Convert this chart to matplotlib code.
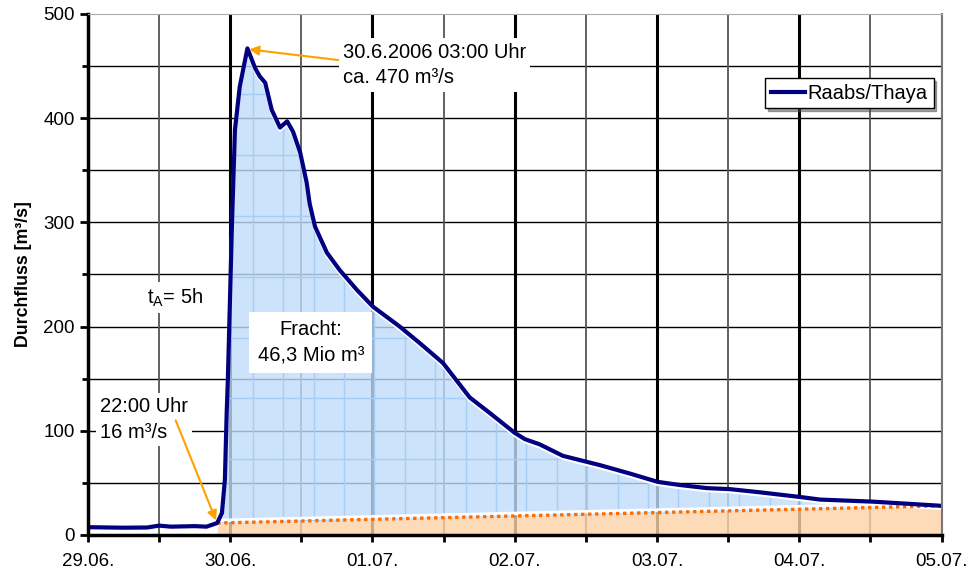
import numpy as np
import matplotlib
matplotlib.use("Agg")
import matplotlib.pyplot as plt
import matplotlib.transforms as mtransforms

plt.rcParams['font.family'] = ['Liberation Sans', 'DejaVu Sans']

# hydrograph Raabs/Thaya, hours since 29.06. 00:00
hours = [0, 6, 10, 12, 14, 18, 20, 21.8, 22.6, 23.1, 23.4, 23.6, 24.3, 24.8,
         25.6, 26.9, 28.2, 29.0, 29.9, 31.0, 32.4, 33.6, 34.6, 35.8, 36.9,
         37.4, 38.3, 40.3, 42.5, 45.4, 48.1, 52.6, 56.0, 59.9, 64.4, 67.8,
         72.0, 73.7, 76.2, 80.1, 86.4, 91.4, 96.1, 99.8, 104.4, 108.3, 113.3,
         120.1, 123.5, 132.4, 144]
flow = [7.5, 7.0, 7.2, 9.0, 8.0, 8.5, 8.0, 11.5, 21, 53, 117, 149, 300, 389,
        430, 467, 448, 440, 434, 408, 391, 397, 387, 367, 338,
        318, 296, 271, 254, 235, 219, 200, 184, 165, 132, 117,
        98, 92, 87, 76, 67, 59, 51, 48, 45, 44, 41,
        36.5, 34, 32, 28]

# base flow line (separation of the event load)
base_hours = [21.8, 144]
base_flow = [11.5, 28]

day_labels = ["29.06.", "30.06.", "01.07.", "02.07.", "03.07.", "04.07.", "05.07."]

hours = np.array(hours)
flow = np.array(flow)

fig = plt.figure(figsize=(9.73, 5.78), dpi=100)
ax = fig.add_axes([0.0904, 0.0744, 0.8773, 0.9014])
ax.set_xlim(0, 144)
ax.set_ylim(0, 500)

# grid
for y in range(50, 500, 50):
    ax.axhline(y, color="black", lw=1.0, zorder=1)
for h in range(12, 144, 24):
    ax.axvline(h, color="#555555", lw=1.3, zorder=1)
for h in range(24, 144, 24):
    ax.axvline(h, color="black", lw=2.2, zorder=1)
ax.axvline(144, color="#777777", lw=1.5, zorder=1)

# event area (blue) and base flow area (orange)
mask = hours >= base_hours[0]
hx = hours[mask]
hy = flow[mask]
base_at = np.interp(hx, base_hours, base_flow)
blue = ax.fill_between(hx, base_at, hy, color="#c0ddfa", alpha=0.8, lw=0, zorder=2)
orange = ax.fill_between(base_hours, [0, 0], base_flow, color="#fdd3a8", alpha=0.8,
                         lw=0, zorder=2)

# light texture grid inside the blue area
clip_path = blue.get_paths()[0]
vx = np.arange(27.8 - 5.13 * 1, 144, 5.13)
hy_lines = np.arange(14, 500, 58.5)
v = ax.vlines(vx, 0, 500, color="#a5cdf6", lw=1.0, zorder=2.1)
hl = ax.hlines(hy_lines, 0, 144, color="#a5cdf6", lw=1.0, zorder=2.1)
v.set_clip_path(clip_path, blue.get_transform())
hl.set_clip_path(clip_path, blue.get_transform())

# white gaps below the hydrograph / above the base line
down = mtransforms.offset_copy(ax.transData, fig=fig, x=0, y=-2.5, units="dots")
up = mtransforms.offset_copy(ax.transData, fig=fig, x=0, y=2.5, units="dots")
ax.plot(hx, hy, color="white", lw=2.5, transform=down, zorder=3)
ax.plot(base_hours, base_flow, color="white", lw=2.5, transform=up, zorder=3)

ax.plot(base_hours, base_flow, color="#ff6a00", lw=2.4, ls=(0, (1, 1.1)), zorder=4)
ax.plot(hours, flow, color="#000080", lw=3.0, zorder=5, label="Raabs/Thaya",
        solid_joinstyle="round")

# annotations
fs = 14.5
box = dict(facecolor="white", edgecolor="none", pad=3)
arrow = dict(arrowstyle="-|>", color="#ffa000", lw=1.5, mutation_scale=14,
             shrinkA=0, shrinkB=0)
ax.annotate("30.6.2006 03:00 Uhr\nca. 470 m³/s", xy=(27.2, 466), xytext=(43.0, 451),
            ha="left", va="center", fontsize=fs, linespacing=1.45, bbox=box,
            arrowprops=dict(arrow, relpos=(0, 0.6)), zorder=6)
ax.text(2.0, 111, "22:00 Uhr\n16 m³/s", ha="left", va="center", fontsize=fs,
        linespacing=1.45, bbox=box, zorder=6)
ax.annotate("", xy=(21.6, 14), xytext=(14.8, 110), arrowprops=arrow, zorder=6.5)
ax.text(14.7, 228, r"t$\mathregular{_A}$= 5h", ha="center", va="center",
        fontsize=fs, bbox=box, zorder=6)
ax.text(37.6, 185, "Fracht:\n46,3 Mio m³", ha="center", va="center",
        fontsize=fs, linespacing=1.45, zorder=6,
        bbox=dict(facecolor="white", edgecolor="none", pad=6))

# axes styling
ax.set_xticks(np.arange(0, 145, 24))
ax.set_xticklabels(day_labels, fontsize=13.5)
ax.set_xticks(np.arange(12, 144, 24), minor=True)
ax.set_yticks(np.arange(0, 501, 100))
ax.set_yticks(np.arange(50, 500, 100), minor=True)
ax.tick_params(axis="both", which="both", direction="out", width=2, color="black")
ax.tick_params(axis="x", which="both", length=5, pad=8)
ax.tick_params(axis="y", which="major", length=6, labelsize=13.5)
ax.tick_params(axis="y", which="minor", length=4)
ax.set_ylabel("Durchfluss [m³/s]", fontsize=12.8, fontweight="bold", labelpad=8)

ax.spines["left"].set_linewidth(2.5)
ax.spines["bottom"].set_linewidth(2.5)
ax.spines["top"].set_color("#aaaaaa")
ax.spines["right"].set_color("#777777")
ax.spines["right"].set_linewidth(1.5)
for s in ax.spines.values():
    s.set_zorder(7)

leg = ax.legend(loc="upper left", bbox_to_anchor=(0.793, 0.877), fontsize=fs,
                fancybox=False, shadow=True, framealpha=1, edgecolor="black",
                handlelength=1.7, handletextpad=0.15, borderpad=0.28,
                borderaxespad=0)
leg.get_frame().set_linewidth(1.0)
leg.set_zorder(8)

fig.savefig("out.png", dpi=100)
